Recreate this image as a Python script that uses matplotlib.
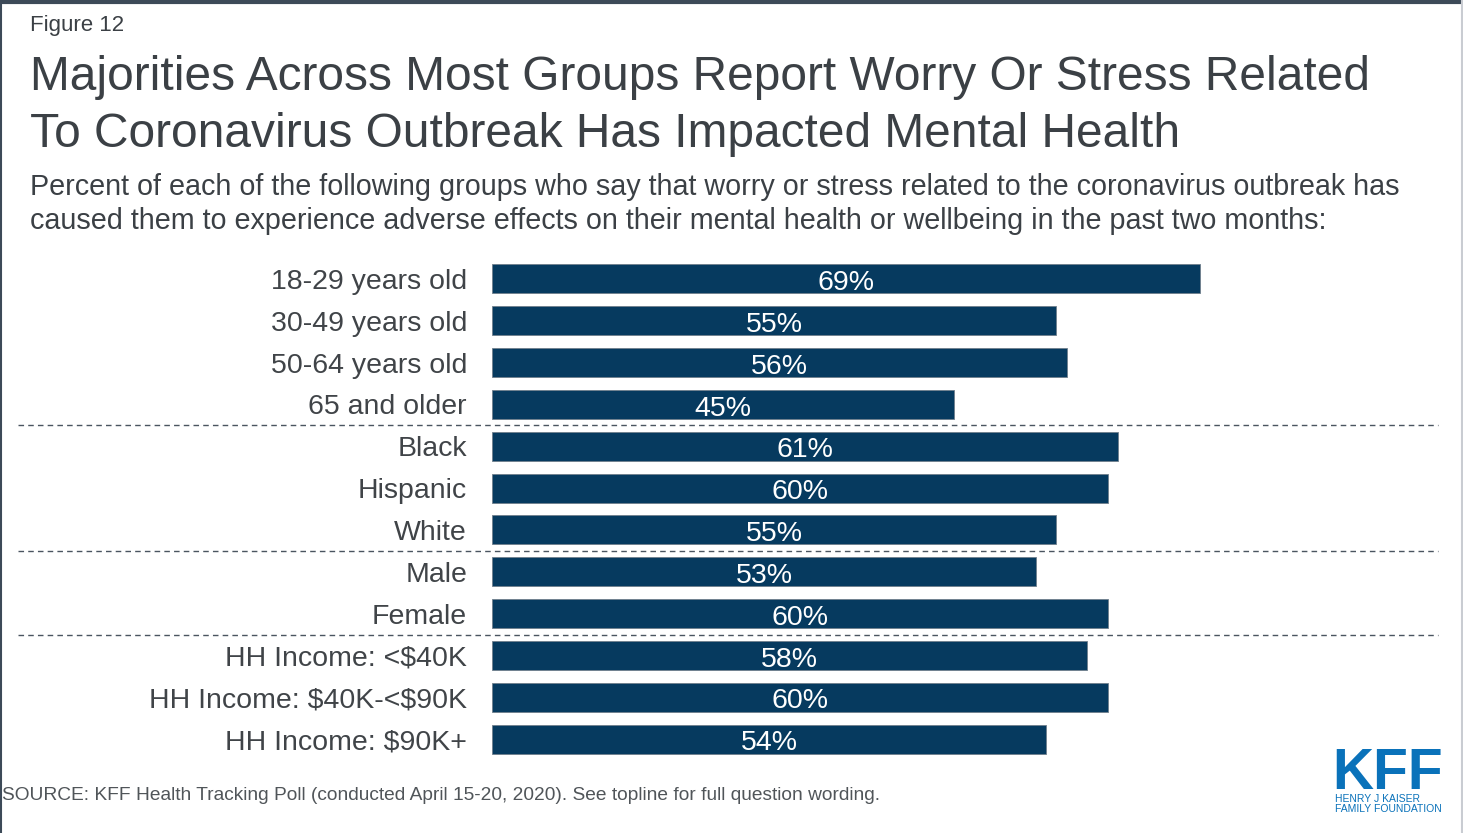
import matplotlib
matplotlib.use("Agg")
import matplotlib.pyplot as plt
import matplotlib.transforms as mtransforms
from matplotlib.lines import Line2D

plt.rcParams['font.family'] = ['Liberation Sans', 'DejaVu Sans']
plt.rcParams['text.parse_math'] = False

# Survey groups and share reporting adverse mental-health effects (%)
groups = [
    "18-29 years old", "30-49 years old", "50-64 years old", "65 and older",
    "Black", "Hispanic", "White",
    "Male", "Female",
    "HH Income: <$40K", "HH Income: $40K-<$90K", "HH Income: $90K+",
]
values = [69, 55, 56, 45, 61, 60, 55, 53, 60, 58, 60, 54]
group_breaks = [3.5, 6.5, 8.5]

title_lines = [
    "Majorities Across Most Groups Report Worry Or Stress Related",
    "To Coronavirus Outbreak Has Impacted Mental Health",
]
subtitle_lines = [
    "Percent of each of the following groups who say that worry or stress related to the coronavirus outbreak has",
    "caused them to experience adverse effects on their mental health or wellbeing in the past two months:",
]
source_text = ("SOURCE: KFF Health Tracking Poll (conducted April 15-20, 2020). "
               "See topline for full question wording.")

W, H = 1463, 833
fig = plt.figure(figsize=(W / 100, H / 100), dpi=100)
fig.patch.set_facecolor("white")

BAR = "#063a5f"
TEXT = "#3b4045"
LABEL = "#404448"

def fx(px):
    return px / W

def fy(py):
    return 1 - py / H

# Plot area: bars start at x=492px, rows centred from y=279px to y=739px
ax = fig.add_axes([fx(492), fy(760), fx(1438) - fx(492), fy(258) - fy(760)])
ax.set_xlim(0, 92.2)
ax.set_ylim(len(groups) - 0.5, -0.5)
ypos = list(range(len(groups)))
ax.barh(ypos, values, height=0.69, color=BAR, edgecolor="#6f7f8c", linewidth=0.6)
for y, v in zip(ypos, values):
    ax.text(v / 2, y + 0.1, f"{v}%", color="white", fontsize=20.5,
            ha="center", va="center")
ax.set_yticks(ypos)
ax.set_yticklabels(groups, fontsize=20.5, color=LABEL)
ax.tick_params(axis="y", length=0, pad=18)
ax.set_xticks([])
for s in ax.spines.values():
    s.set_visible(False)

# Dashed separators between demographic groups, spanning the slide width
trans = mtransforms.blended_transform_factory(fig.transFigure, ax.transData)
for b in group_breaks:
    ax.add_line(Line2D([fx(18), fx(1438)], [b, b], transform=trans,
                       color="#4a5560", linestyle=(0, (4, 3)), linewidth=1.0,
                       clip_on=False))

# Header text
fig.text(fx(30), fy(31), "Figure 12", fontsize=16, color=TEXT, va="baseline")
fig.text(fx(30), fy(90), title_lines[0], fontsize=34.5, color=TEXT, va="baseline")
fig.text(fx(30), fy(147), title_lines[1], fontsize=34.5, color=TEXT, va="baseline")
fig.text(fx(30), fy(195), subtitle_lines[0], fontsize=20.7, color=TEXT, va="baseline")
fig.text(fx(30), fy(229), subtitle_lines[1], fontsize=20.7, color=TEXT, va="baseline")

# Source note
fig.text(fx(2), fy(800), source_text, fontsize=13.8, color="#505559", va="baseline")

# Logo block
KFF_BLUE = "#0a72ba"
fig.text(fx(1388), fy(789), "KFF", fontsize=41, fontweight="bold", color=KFF_BLUE,
         ha="center", va="baseline")
fig.text(fx(1335), fy(802), "HENRY J KAISER", fontsize=7.5, color=KFF_BLUE,
         va="baseline")
fig.text(fx(1335), fy(812), "FAMILY FOUNDATION", fontsize=7.5, color=KFF_BLUE,
         va="baseline")

# Slide frame
fig.add_artist(Line2D([0, 1], [fy(1.5), fy(1.5)], transform=fig.transFigure,
                      color="#3d4a58", linewidth=3))
fig.add_artist(Line2D([fx(1), fx(1)], [0, 1], transform=fig.transFigure,
                      color="#3d4a58", linewidth=1.5))
fig.add_artist(Line2D([fx(1461.5), fx(1461.5)], [0, 1], transform=fig.transFigure,
                      color="#c9ccd2", linewidth=1.5))

fig.savefig("out.png", dpi=100, facecolor="white")
